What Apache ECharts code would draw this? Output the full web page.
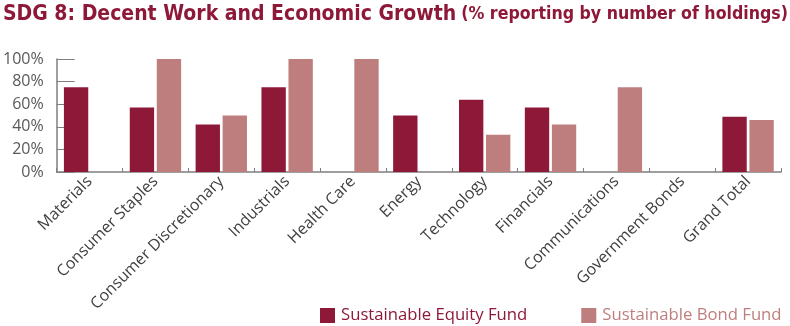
<!DOCTYPE html>
<html><head><meta charset="utf-8">
<script src="https://cdn.jsdelivr.net/npm/echarts@6/dist/echarts.min.js"></script>
<style>html,body{margin:0;padding:0;background:#fff}#c{width:790px;height:326px}</style>
</head><body><div id="c"></div>
<script>
const categories = ['Materials','Consumer Staples','Consumer Discretionary','Industrials','Health Care','Energy','Technology','Financials','Communications','Government Bonds','Grand Total'];
const equityValues = [75, 57, 42, 75, 0, 50, 64, 57, 0, 0, 49];
const bondValues = [0, 100, 50, 100, 100, 0, 33, 42, 75, 0, 46];
const yTicks = [0, 20, 40, 60, 80, 100];
const seriesNames = ['Sustainable Equity Fund', 'Sustainable Bond Fund'];
const EQ = '#8E1838', BD = '#BE7E7E';

const chart = echarts.init(document.getElementById('c'));
chart.setOption({
  animation: false,
  title: {
    text: '{a|SDG 8: Decent Work and Economic Growth} {b|(% reporting by number of holdings)}',
    left: 3, top: 4, padding: 0,
    textStyle: {
      rich: {
        a: { fontFamily: 'DejaVu Sans Condensed', fontWeight: 'bold', fontSize: 21, color: EQ },
        b: { fontFamily: 'DejaVu Sans Condensed', fontSize: 17.6, color: EQ }
      }
    }
  },
  legend: {
    left: 320, top: 307, padding: 0,
    itemWidth: 15, itemHeight: 15, itemGap: 54,
    icon: 'rect',
    textStyle: { fontFamily: 'Open Sans', fontSize: 16.7, padding: [0,0,0,1] },
    data: [
      { name: seriesNames[0], textStyle: { color: EQ } },
      { name: seriesNames[1], textStyle: { color: BD } }
    ]
  },
  grid: { left: 56, right: 9, top: 59, bottom: 154, containLabel: false },
  xAxis: {
    type: 'category', data: categories,
    axisLine: { lineStyle: { color: '#7f7f7f', width: 1.5 } },
    axisTick: { show: true, inside: true, length: 4, lineStyle: { color: '#7f7f7f' } },
    axisLabel: { rotate: 45, interval: 0, fontFamily: 'Open Sans', fontSize: 16, color: '#404040', margin: 7 }
  },
  yAxis: {
    type: 'value', min: 0, max: 100, interval: 20,
    axisLine: { show: true, lineStyle: { color: '#7f7f7f', width: 1.5 } },
    axisTick: { show: true, inside: true, length: 18, lineStyle: { color: '#7f7f7f' } },
    splitLine: { show: false },
    axisLabel: { formatter: v => yTicks.includes(v) ? v + '%' : '', fontFamily: 'Open Sans', fontSize: 16, color: '#595959', margin: 13 }
  },
  series: [
    { name: seriesNames[0], type: 'bar', data: equityValues, itemStyle: { color: EQ }, barGap: '11%', barCategoryGap: '22%' },
    { name: seriesNames[1], type: 'bar', data: bondValues, itemStyle: { color: BD }, barGap: '11%', barCategoryGap: '22%' }
  ]
});
</script></body></html>
